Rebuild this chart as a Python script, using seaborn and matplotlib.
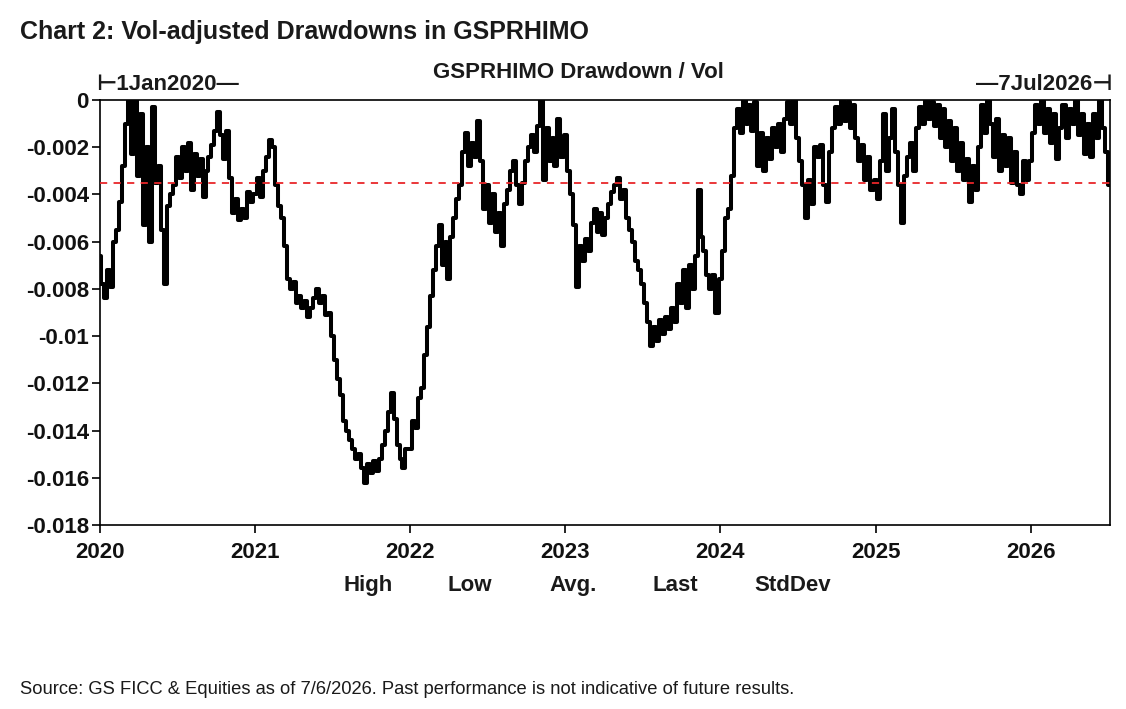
import numpy as np
import pandas as pd
import matplotlib
matplotlib.use("Agg")
import matplotlib.pyplot as plt
import seaborn as sns

# ---------------- data (weekly readings of drawdown / vol) ----------------
dd_2020 = [-0.0066, -0.0078, -0.0084, -0.0072, -0.0079, -0.0060, -0.0055, -0.0043, -0.0028, -0.0010,
           0.0000, -0.0023, 0.0000, -0.0032, -0.0006, -0.0053, -0.0020, -0.0060, -0.0003, -0.0035,
           -0.0028, -0.0055, -0.0078, -0.0045, -0.0040, -0.0036, -0.0024, -0.0033, -0.0020, -0.0030,
           -0.0018, -0.0038, -0.0023, -0.0032, -0.0025, -0.0041, -0.0030, -0.0024, -0.0019, -0.0013,
           -0.0005, -0.0015, -0.0025, -0.0013, -0.0033, -0.0048, -0.0042, -0.0051, -0.0046, -0.0050,
           -0.0039, -0.0043]
dd_2021 = [-0.0040, -0.0033, -0.0041, -0.0030, -0.0024, -0.0017, -0.0020, -0.0036, -0.0045, -0.0050,
           -0.0062, -0.0076, -0.0080, -0.0077, -0.0086, -0.0083, -0.0088, -0.0085, -0.0092, -0.0088,
           -0.0084, -0.0080, -0.0086, -0.0083, -0.0091, -0.0090, -0.0100, -0.0110, -0.0118, -0.0125,
           -0.0136, -0.0140, -0.0144, -0.0148, -0.0152, -0.0150, -0.0156, -0.0162, -0.0154, -0.0158,
           -0.0153, -0.0157, -0.0152, -0.0146, -0.0140, -0.0132, -0.0124, -0.0135, -0.0146, -0.0152,
           -0.0156, -0.0148]
dd_2022 = [-0.0148, -0.0136, -0.0139, -0.0126, -0.0122, -0.0108, -0.0096, -0.0083, -0.0072, -0.0062,
           -0.0053, -0.0070, -0.0060, -0.0076, -0.0058, -0.0050, -0.0042, -0.0036, -0.0022, -0.0014,
           -0.0028, -0.0018, -0.0024, -0.0009, -0.0026, -0.0046, -0.0036, -0.0052, -0.0040, -0.0056,
           -0.0048, -0.0062, -0.0044, -0.0038, -0.0030, -0.0026, -0.0036, -0.0044, -0.0035, -0.0026,
           -0.0020, -0.0015, -0.0022, -0.0011, 0.0000, -0.0034, -0.0012, -0.0026, -0.0016, -0.0028,
           -0.0008, -0.0024]
dd_2023 = [-0.0015, -0.0030, -0.0040, -0.0053, -0.0079, -0.0062, -0.0068, -0.0059, -0.0064, -0.0052,
           -0.0046, -0.0056, -0.0048, -0.0057, -0.0050, -0.0044, -0.0039, -0.0036, -0.0033, -0.0042,
           -0.0038, -0.0050, -0.0055, -0.0060, -0.0068, -0.0072, -0.0078, -0.0086, -0.0094, -0.0104,
           -0.0096, -0.0102, -0.0093, -0.0099, -0.0092, -0.0097, -0.0088, -0.0094, -0.0078, -0.0086,
           -0.0072, -0.0088, -0.0070, -0.0080, -0.0066, -0.0038, -0.0058, -0.0064, -0.0074, -0.0080,
           -0.0074, -0.0090]
dd_2024 = [-0.0076, -0.0064, -0.0050, -0.0046, -0.0032, -0.0012, -0.0004, -0.0014, 0.0000, -0.0010,
           -0.0002, -0.0013, -0.0001, -0.0028, -0.0014, -0.0030, -0.0016, -0.0025, -0.0012, -0.0020,
           -0.0010, -0.0022, -0.0008, -0.0001, -0.0010, 0.0000, -0.0016, -0.0026, -0.0036, -0.0050,
           -0.0034, -0.0044, -0.0020, -0.0024, -0.0019, -0.0036, -0.0043, -0.0022, -0.0012, -0.0003,
           -0.0010, 0.0000, -0.0009, -0.0001, -0.0012, -0.0002, -0.0016, -0.0026, -0.0019, -0.0034,
           -0.0024, -0.0038]
dd_2025 = [-0.0034, -0.0042, -0.0026, -0.0006, -0.0030, -0.0016, -0.0004, -0.0022, -0.0036, -0.0052,
           -0.0032, -0.0024, -0.0018, -0.0030, -0.0012, -0.0003, -0.0010, 0.0000, -0.0008, -0.0001,
           -0.0011, -0.0002, -0.0016, -0.0004, -0.0020, -0.0009, -0.0026, -0.0012, -0.0030, -0.0018,
           -0.0034, -0.0025, -0.0043, -0.0028, -0.0038, -0.0020, -0.0002, -0.0014, 0.0000, -0.0010,
           -0.0024, -0.0008, -0.0030, -0.0015, -0.0028, -0.0016, -0.0035, -0.0022, -0.0036, -0.0040,
           -0.0026, -0.0034]
dd_2026 = [-0.0026, -0.0014, -0.0002, -0.0010, 0.0000, -0.0014, -0.0004, -0.0018, -0.0006, -0.0025,
           -0.0012, -0.0002, -0.0016, -0.0004, -0.0010, 0.0000, -0.0015, -0.0006, -0.0023, -0.0010,
           -0.0024, -0.0006, -0.0016, 0.0000, -0.0012, -0.0022, -0.0036]

average_level = -0.0035

ytick_values = [0, -0.002, -0.004, -0.006, -0.008, -0.01, -0.012, -0.014, -0.016, -0.018]
ytick_labels = ["0", "-0.002", "-0.004", "-0.006", "-0.008", "-0.01", "-0.012", "-0.014", "-0.016", "-0.018"]
xtick_years = [2020, 2021, 2022, 2023, 2024, 2025, 2026]
stat_labels = ["High", "Low", "Avg.", "Last", "StdDev"]

title_text = "Chart 2: Vol-adjusted Drawdowns in GSPRHIMO"
header_text = "GSPRHIMO Drawdown / Vol"
start_text = "\u22a21Jan2020\u2014"
end_text = "\u20147Jul2026\u22a3"
source_text = "Source: GS FICC & Equities as of 7/6/2026. Past performance is not indicative of future results."

# ---------------- build frame ----------------
parts = []
for year, vals in [(2020, dd_2020), (2021, dd_2021), (2022, dd_2022), (2023, dd_2023),
                   (2024, dd_2024), (2025, dd_2025)]:
    d = pd.date_range(start=f"{year}-01-01", periods=len(vals), freq="7D")
    parts.append(pd.DataFrame({"date": d, "value": vals}))
d26 = pd.date_range(start="2026-01-01", end="2026-07-06", periods=len(dd_2026))
parts.append(pd.DataFrame({"date": d26, "value": dd_2026}))
df = pd.concat(parts, ignore_index=True)

# ---------------- plot ----------------
sns.set_theme(style="white")
plt.rcParams["font.family"] = ["Liberation Sans", "DejaVu Sans"]

W, H = 1126, 709
fig = plt.figure(figsize=(W / 100, H / 100), dpi=100)
ax = fig.add_axes([100 / W, 1 - 525 / H, 1010 / W, 425 / H])

sns.lineplot(data=df, x="date", y="value", ax=ax, color="black", linewidth=2.9,
             estimator=None, sort=True, drawstyle="steps-mid")
ax.axhline(average_level, color="#e8262a", linewidth=1.3, linestyle=(0, (4, 3.5)), zorder=3)

ax.set_xlim(pd.Timestamp("2020-01-01"), pd.Timestamp("2026-07-07"))
ax.set_ylim(-0.018, 0)
ax.set_yticks(ytick_values)
ax.set_yticklabels(ytick_labels)
ax.set_xticks([pd.Timestamp(f"{y}-01-01") for y in xtick_years])
ax.set_xticklabels([str(y) for y in xtick_years])
ax.set_xlabel("")
ax.set_ylabel("")

for s in ax.spines.values():
    s.set_visible(True)
    s.set_color("black")
    s.set_linewidth(1.2)

ax.tick_params(axis="both", which="major", direction="out", length=6, width=1.2,
               color="black", labelsize=16, labelcolor="#111111",
               left=True, bottom=True)
ax.tick_params(axis="x", pad=6)
ax.tick_params(axis="y", pad=2)
for lab in ax.get_xticklabels() + ax.get_yticklabels():
    lab.set_fontweight("bold")
ax.grid(False)

# texts
fig.text(20 / W, 1 - 32 / H, title_text, fontsize=18, fontweight="bold",
         color="#1a1a1a", ha="left", va="center")
fig.text(578 / W, 1 - 73 / H, header_text, fontsize=16, fontweight="bold",
         color="#1a1a1a", ha="center", va="center")
fig.text(96 / W, 1 - 85 / H, start_text, fontsize=16, fontweight="bold",
         color="#1a1a1a", ha="left", va="center")
fig.text(1113 / W, 1 - 85 / H, end_text, fontsize=16, fontweight="bold",
         color="#1a1a1a", ha="right", va="center")

stat_x = [368, 470, 573, 675, 793]
for xs, lab in zip(stat_x, stat_labels):
    fig.text(xs / W, 1 - 591 / H, lab, fontsize=16, fontweight="bold",
             color="#1a1a1a", ha="center", va="baseline")

fig.text(20 / W, 1 - 690 / H, source_text, fontsize=13.2, color="#1a1a1a",
         ha="left", va="center")

fig.savefig("out.png", dpi=100)
